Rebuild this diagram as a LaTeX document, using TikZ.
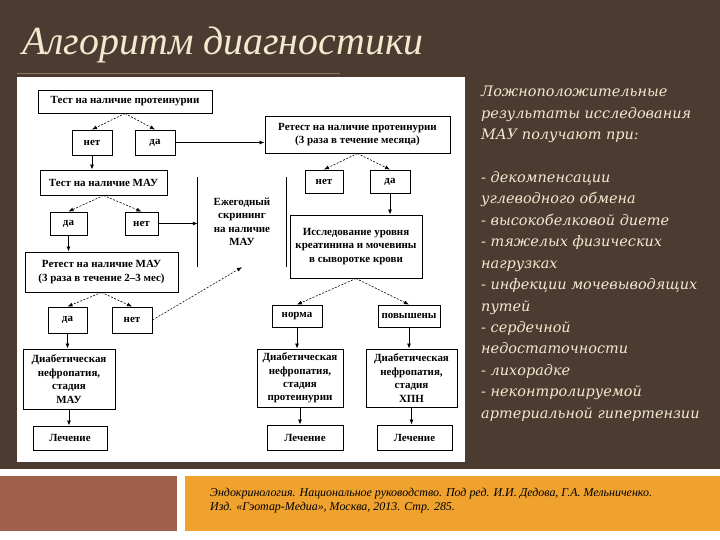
\documentclass[tikz,border=0pt]{standalone}
\usepackage{fontspec}
\setmainfont{Liberation Serif}
\newfontfamily\notefont{DejaVu Serif}
\usetikzlibrary{arrows.meta, positioning}

\definecolor{slidebg}{HTML}{4B3B30}
\definecolor{cream}{HTML}{F3E9CF}
\definecolor{rulebrown}{HTML}{85786A}
\definecolor{barbrown}{HTML}{A0614C}
\definecolor{barorange}{HTML}{F0A22E}

\begin{document}
\begin{tikzpicture}[
      x=1bp, y=-1bp,
      box/.style={draw, line width=0.9bp, align=center, inner sep=1bp, font=\fontsize{11}{13.5}\selectfont\bfseries},
      bare/.style={align=center, inner sep=1bp, font=\fontsize{11}{13.5}\selectfont\bfseries},
      arr/.style={-{Latex[length=5bp,width=4bp]}, line width=0.8bp},
      darr/.style={-{Latex[length=5bp,width=4bp]}, line width=0.6bp, dash pattern=on 2bp off 1.5bp}
    ]
    % slide background
    \useasboundingbox (0,0) rectangle (720,540);
    \fill[white] (0,0) rectangle (720,540);
    \fill[slidebg] (0,0) rectangle (720,469);
    \fill[barbrown] (0,476) rectangle (177,531);
    \fill[barorange] (185,476) rectangle (720,531);
    \draw[rulebrown, line width=0.8bp] (17,73) -- (340,73);
    \fill[white] (17,77) rectangle (465,462);

    \node[anchor=base west, inner sep=0, text=cream, font=\fontsize{40}{40}\selectfont\itshape] (title) at (22,55) {Алгоритм диагностики};

    \node[anchor=north west, inner sep=0, align=left, text=cream, font=\notefont\itshape\fontsize{14.5}{21.5}\selectfont] (notes) at (481,86) {%
      Ложноположительные\\
      результаты исследования\\
      МАУ получают при:\\[21.5bp]
      - декомпенсации\\
      углеводного обмена\\
      - высокобелковой диете\\
      - тяжелых физических\\
      нагрузках\\
      - инфекции мочевыводящих\\
      путей\\
      - сердечной\\
      недостаточности\\
      - лихорадке\\
      - неконтролируемой\\
      артериальной гипертензии};

    \node[anchor=north west, inner sep=0, align=left, font=\fontsize{12}{14.5}\selectfont\itshape] (source) at (210,488) {%
      Эндокринология. Национальное руководство. Под ред. И.И. Дедова, Г.А. Мельниченко.\\
      Изд. «Гэотар-Медиа», Москва, 2013. Стр. 285.};

    % left branch
    \node[box, minimum width=174bp, minimum height=23bp] (t1) at (125,101.5) {Тест на наличие протеинурии};
    \node[box, minimum width=40bp, minimum height=25bp] (n1) at (92,142.5) {нет};
    \node[box, minimum width=40bp, minimum height=25bp] (d1) at (155,142.5) {да};
    \node[box, minimum width=127bp, minimum height=25bp] (t2) at (103.5,182.5) {Тест на наличие МАУ};
    \node[box, minimum width=37bp, minimum height=23bp] (d2) at (68.5,223.5) {да};
    \node[box, minimum width=33bp, minimum height=23bp] (n2) at (141.5,223.5) {нет};
    \node[box, minimum width=153bp, minimum height=40bp] (r2) at (101.5,272) {Ретест на наличие МАУ\\(3 раза в течение 2--3 мес)};
    \node[box, minimum width=39bp, minimum height=26bp] (d3) at (67.5,320) {да};
    \node[box, minimum width=40bp, minimum height=26bp] (n3) at (132,320) {нет};
    \node[box, minimum width=92bp, minimum height=60bp] (dm) at (69,379) {Диабетическая\\нефропатия,\\стадия\\МАУ};
    \node[box, minimum width=74bp, minimum height=24bp] (l1) at (70,438) {Лечение};

    \node[bare, minimum width=88bp, minimum height=90bp] (ann) at (242,222) {Ежегодный\\скрининг\\на наличие\\МАУ};
    \draw[line width=0.9bp] (ann.north west) -- (ann.south west);
    \draw[line width=0.9bp] (ann.north east) -- (ann.south east);

    % right branch
    \node[box, minimum width=185bp, minimum height=37bp] (r1) at (357.5,134.5) {Ретест на наличие протеинурии\\(3 раза в течение месяца)};
    \node[box, minimum width=38bp, minimum height=23bp] (n4) at (324,181.5) {нет};
    \node[box, minimum width=40bp, minimum height=23bp] (d4) at (390,181.5) {да};
    \node[box, minimum width=132bp, minimum height=63bp] (cr) at (356,246.5) {Исследование уровня\\креатинина и мочевины\\в сыворотке крови};
    \node[box, minimum width=50bp, minimum height=22bp] (no) at (297,316) {норма};
    \node[box, minimum width=62bp, minimum height=22bp] (pv) at (409,316) {повышены};
    \node[box, minimum width=86bp, minimum height=58bp] (dp) at (300,378) {Диабетическая\\нефропатия,\\стадия\\протеинурии};
    \node[box, minimum width=91bp, minimum height=58bp] (dx) at (411.5,378) {Диабетическая\\нефропатия,\\стадия\\ХПН};
    \node[box, minimum width=76bp, minimum height=25bp] (l2) at (305,437.5) {Лечение};
    \node[box, minimum width=75bp, minimum height=25bp] (l3) at (414.5,437.5) {Лечение};

    % connectors
    \draw[darr] (t1.south) -- (n1.north);
    \draw[darr] (t1.south) -- (d1.north);
    \draw[arr] (d1.east) -- (d1.east -| r1.west);
    \draw[arr] (n1.south) -- (n1.south |- t2.north);
    \draw[darr] (t2.south) -- (d2.north);
    \draw[darr] (t2.south) -- (n2.north);
    \draw[arr] (d2.south) -- (d2.south |- r2.north);
    \draw[arr] (n2.east) -- (n2.east -| ann.west);
    \draw[darr] (r2.south) -- (d3.north);
    \draw[darr] (r2.south) -- (n3.north);
    \draw[darr] (n3.east) -- (ann.south);
    \draw[arr] (d3.south) -- (d3.south |- dm.north);
    \draw[arr] (dm.south) -- (dm.south |- l1.north);

    \draw[darr] (r1.south) -- (n4.north);
    \draw[darr] (r1.south) -- (d4.north);
    \draw[arr] (d4.south) -- (d4.south |- cr.north);
    \draw[darr] (cr.south) -- (no.north);
    \draw[darr] (cr.south) -- (pv.north);
    \draw[arr] (no.south) -- (no.south |- dp.north);
    \draw[arr] (pv.south) -- (pv.south |- dx.north);
    \draw[arr] (dp.south) -- (dp.south |- l2.north);
    \draw[arr] (dx.south) -- (dx.south |- l3.north);
  \end{tikzpicture}
\end{document}
